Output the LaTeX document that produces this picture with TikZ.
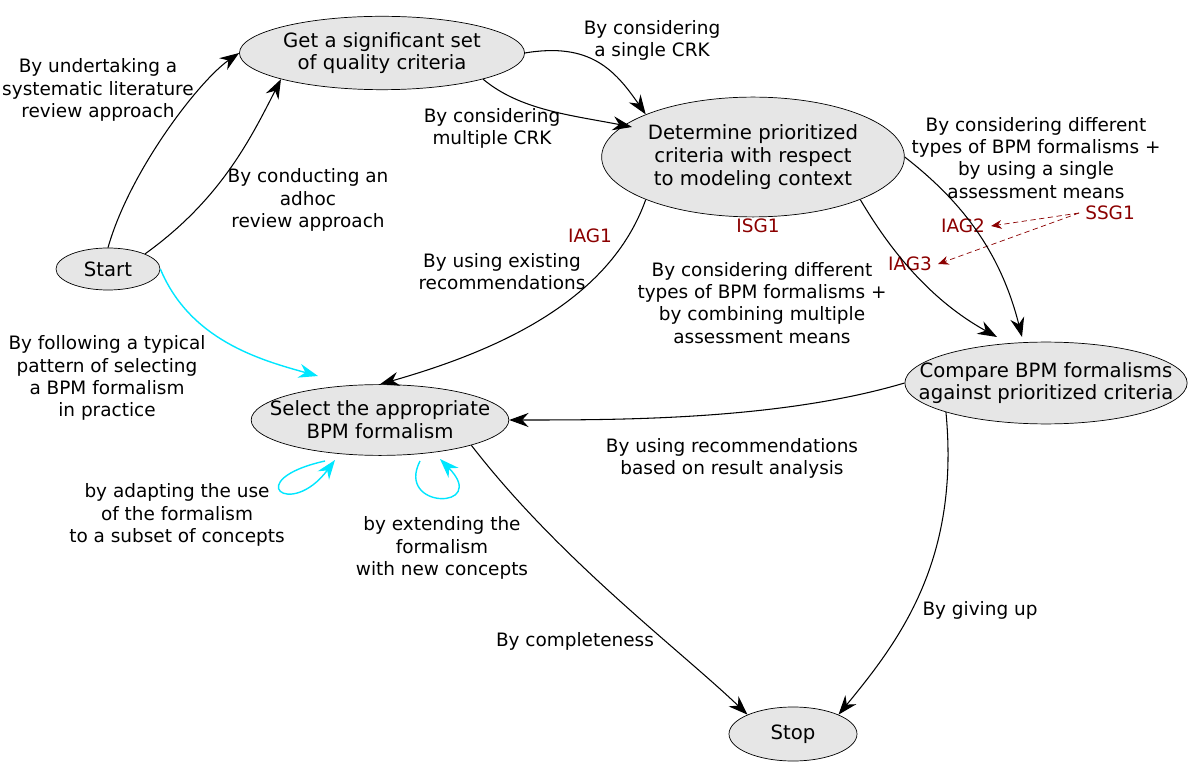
\documentclass[tikz,border=0pt]{standalone}
\usepackage{fontspec}
\setmainfont{DejaVu Sans}
\usetikzlibrary{shapes.geometric,arrows.meta}
\definecolor{stategray}{HTML}{E6E6E6}
\definecolor{goalred}{HTML}{8B0000}
\definecolor{loopcyan}{RGB}{0,230,255}
\begin{document}
\begin{tikzpicture}[x=0.02cm,y=-0.02cm,
    state/.style={ellipse, draw, fill=stategray, align=center, font=\fontsize{11.2}{13}\selectfont},
    lbl/.style={align=center, font=\fontsize{10.5}{12.6}\selectfont},
    goal/.style={text=goalred, font=\fontsize{10.5}{12.6}\selectfont},
    arrow/.style={-{Stealth[length=11pt,width=8pt]}, semithick},
    cyanarrow/.style={arrow, loopcyan, thick},
    goalarrow/.style={-{Stealth[length=6pt,width=5pt]}, goalred, densely dashed}
]
\useasboundingbox (0,0) rectangle (1200,763);
% States
\node[state, minimum width=104*0.02cm, minimum height=42*0.02cm] (start) at (108,269) {Start};
\node[state, inner xsep=0.04cm, inner ysep=0.1cm] (get) at (382,53) {Get a significant set\\of quality criteria};
\node[state, inner xsep=0.04cm, inner ysep=0.2cm] (det) at (753,157) {Determine prioritized\\criteria with respect\\to modeling context};
\node[state, inner xsep=-0.38cm, inner ysep=0.12cm] (sel) at (380,420) {Select the appropriate\\BPM formalism};
\node[state, inner xsep=-0.55cm, inner ysep=0.16cm] (cmp) at (1046,383) {Compare BPM formalisms\\against prioritized criteria};
\node[state, minimum width=128*0.02cm, minimum height=54*0.02cm] (stop) at (793,734) {Stop};
% Goal labels
\node[goal] (iag1) at (590,236) {IAG1};
\node[goal] (isg1) at (758,226) {ISG1};
\node[goal] (iag2) at (963,226) {IAG2};
\node[goal] (iag3) at (910,264) {IAG3};
\node[goal] (ssg1) at (1110,213) {SSG1};
\draw[goalarrow] (ssg1.west) -- (iag2.east);
\draw[goalarrow] (ssg1.west) -- (iag3.east);
% Start to get
\draw[arrow] (start.north) .. controls (130,170) and (200,80) .. (get.west);
\draw[arrow] (start.north east) .. controls (220,200) and (250,140) .. (get.south west);
\node[lbl] at (98,90) {By undertaking a\\systematic literature\\review approach};
\node[lbl] at (308,200) {By conducting an\\adhoc\\review approach};
% Get to determine
\draw[arrow] (get.east) .. controls (590,42) and (615,70) .. (det.north west);
\draw[arrow] (get.south east) .. controls (520,110) and (570,115) .. (632,127);
\node[lbl] at (492,128) {By considering\\multiple CRK};
\node[lbl] at (652,40) {By considering\\a single CRK};
% Determine to select / compare
\draw[arrow] (det.south west) .. controls (610,300) and (500,350) .. (sel.north);
\node[lbl] at (502,272) {By using existing\\recommendations};
\draw[arrow] (det.south east) .. controls (890,250) and (930,300) .. (997,337);
\draw[arrow] (det.east) .. controls (960,200) and (1000,250) .. (1022,337);
\node[lbl] at (762,303) {By considering different\\types of BPM formalisms +\\by combining multiple\\assessment means};
\node[lbl] at (1036,158) {By considering different\\types of BPM formalisms +\\by using a single\\assessment means};
% Start to select
\draw[cyanarrow] (start.east) .. controls (190,340) and (260,360) .. (318,376);
\node[lbl] at (107,378) {By following a typical\\pattern of selecting\\a BPM formalism\\in practice};
% Loops
\draw[cyanarrow] (325,461) .. controls (240,480) and (290,520) .. (335,460);
\draw[cyanarrow] (420,461) .. controls (395,510) and (490,510) .. (440,459);
\node[lbl] at (177,515) {by adapting the use\\of the formalism\\to a subset of concepts};
\node[lbl] at (442,548) {by extending the\\formalism\\with new concepts};
% Compare to select
\draw[arrow] (cmp.west) .. controls (780,420) and (620,420) .. (sel.east);
\node[lbl] at (732,458) {By using recommendations\\based on result analysis};
% To stop
\draw[arrow] (sel.south east) .. controls (560,560) and (680,650) .. (stop.north west);
\node[lbl] at (575,641) {By completeness};
\draw[arrow] (cmp.south west) .. controls (960,560) and (900,640) .. (stop.north east);
\node[lbl] at (980,610) {By giving up};
\end{tikzpicture}
\end{document}
